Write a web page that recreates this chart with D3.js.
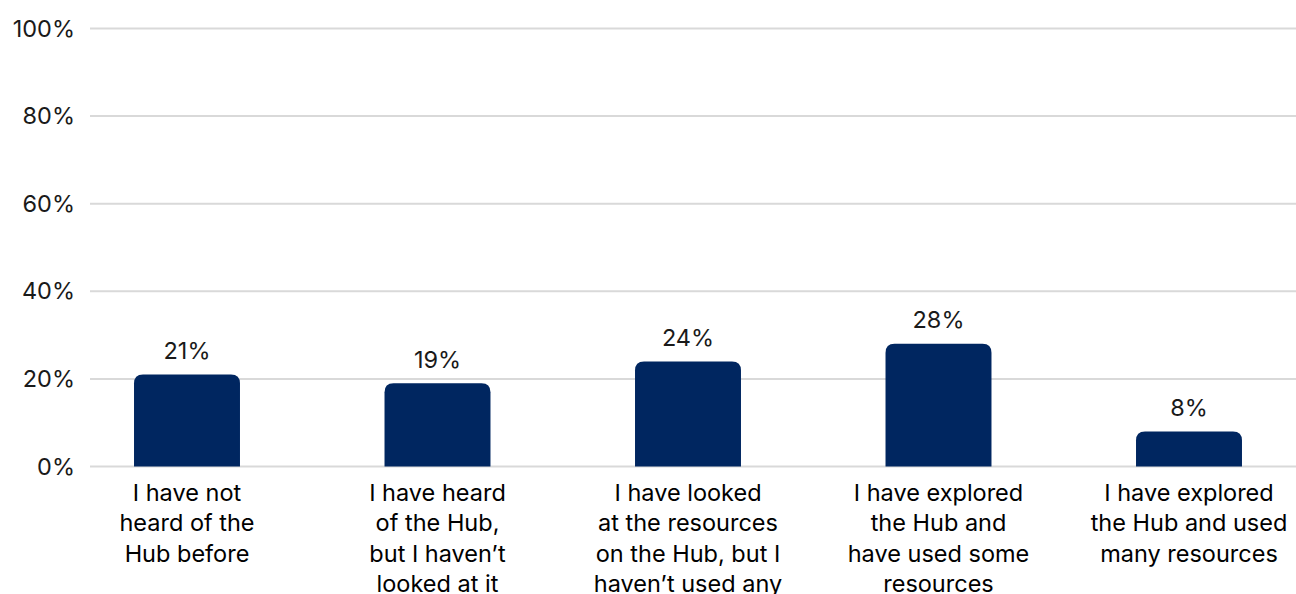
<!DOCTYPE html>
<html>
<head>
<meta charset="utf-8">
<script src="https://cdn.jsdelivr.net/npm/d3@7"></script>
<style>
  html, body { margin: 0; padding: 0; background: #fff; }
  svg { display: block; }
  text { font-family: "Inter", "Roboto", sans-serif; }
</style>
</head>
<body>
<svg id="chart" width="1296" height="594"></svg>
<script>
// Survey responses: familiarity with the Hub
const categories = [
  ["I have not", "heard of the", "Hub before"],
  ["I have heard", "of the Hub,", "but I haven\u2019t", "looked at it"],
  ["I have looked", "at the resources", "on the Hub, but I", "haven\u2019t used any"],
  ["I have explored", "the Hub and", "have used some", "resources"],
  ["I have explored", "the Hub and used", "many resources"]
];
const values = [21, 19, 24, 28, 8];
const yTicks = [0, 20, 40, 60, 80, 100];

const svg = d3.select("#chart");
const W = 1296;
const FS = 23.5;

const x = d3.scaleBand()
  .domain(d3.range(categories.length))
  .range([61.75, 1314.25])
  .paddingInner(0.577)
  .paddingOuter(0.2885);

const y = d3.scaleLinear().domain([0, 100]).range([466.5, 28.5]);

// gridlines
svg.append("g")
  .selectAll("line")
  .data(yTicks)
  .join("line")
  .attr("x1", 90).attr("x2", W)
  .attr("y1", d => y(d)).attr("y2", d => y(d))
  .attr("stroke", "#d9d9d9")
  .attr("stroke-width", 2);

// y-axis labels
const yAxis = d3.axisLeft(y).tickValues(yTicks).tickFormat(d => d + "%").tickSize(0).tickPadding(0);
const gy = svg.append("g").attr("transform", "translate(75,0)").call(yAxis);
gy.select(".domain").remove();
gy.selectAll("text")
  .attr("font-size", FS)
  .attr("font-family", "Inter, Roboto, sans-serif")
  .attr("fill", "#1a1a1a");

// bars with rounded top corners
const r = 9;
function barPath(d, i) {
  const x0 = x(i), w = x.bandwidth();
  const top = y(d), bottom = y(0);
  const rr = Math.min(r, (bottom - top));
  return `M${x0},${bottom}V${top + rr}Q${x0},${top} ${x0 + rr},${top}H${x0 + w - rr}Q${x0 + w},${top} ${x0 + w},${top + rr}V${bottom}Z`;
}
svg.append("g")
  .selectAll("path")
  .data(values)
  .join("path")
  .attr("d", barPath)
  .attr("fill", "#002660");

// value labels
svg.append("g")
  .selectAll("text")
  .data(values)
  .join("text")
  .attr("x", (d, i) => x(i) + x.bandwidth() / 2)
  .attr("y", d => y(d) - 15.5)
  .attr("text-anchor", "middle")
  .attr("font-size", FS)
  .attr("fill", "#1a1a1a")
  .text(d => d + "%");

// category labels
const cat = svg.append("g")
  .selectAll("text")
  .data(categories)
  .join("text")
  .attr("x", (d, i) => x(i) + x.bandwidth() / 2)
  .attr("y", y(0) + 34)
  .attr("text-anchor", "middle")
  .attr("font-size", FS)
  .attr("fill", "#000");
cat.selectAll("tspan")
  .data(d => d)
  .join("tspan")
  .attr("x", function () { return d3.select(this.parentNode).attr("x"); })
  .attr("dy", (d, j) => j === 0 ? 0 : 30.5)
  .text(d => d);
</script>
</body>
</html>
